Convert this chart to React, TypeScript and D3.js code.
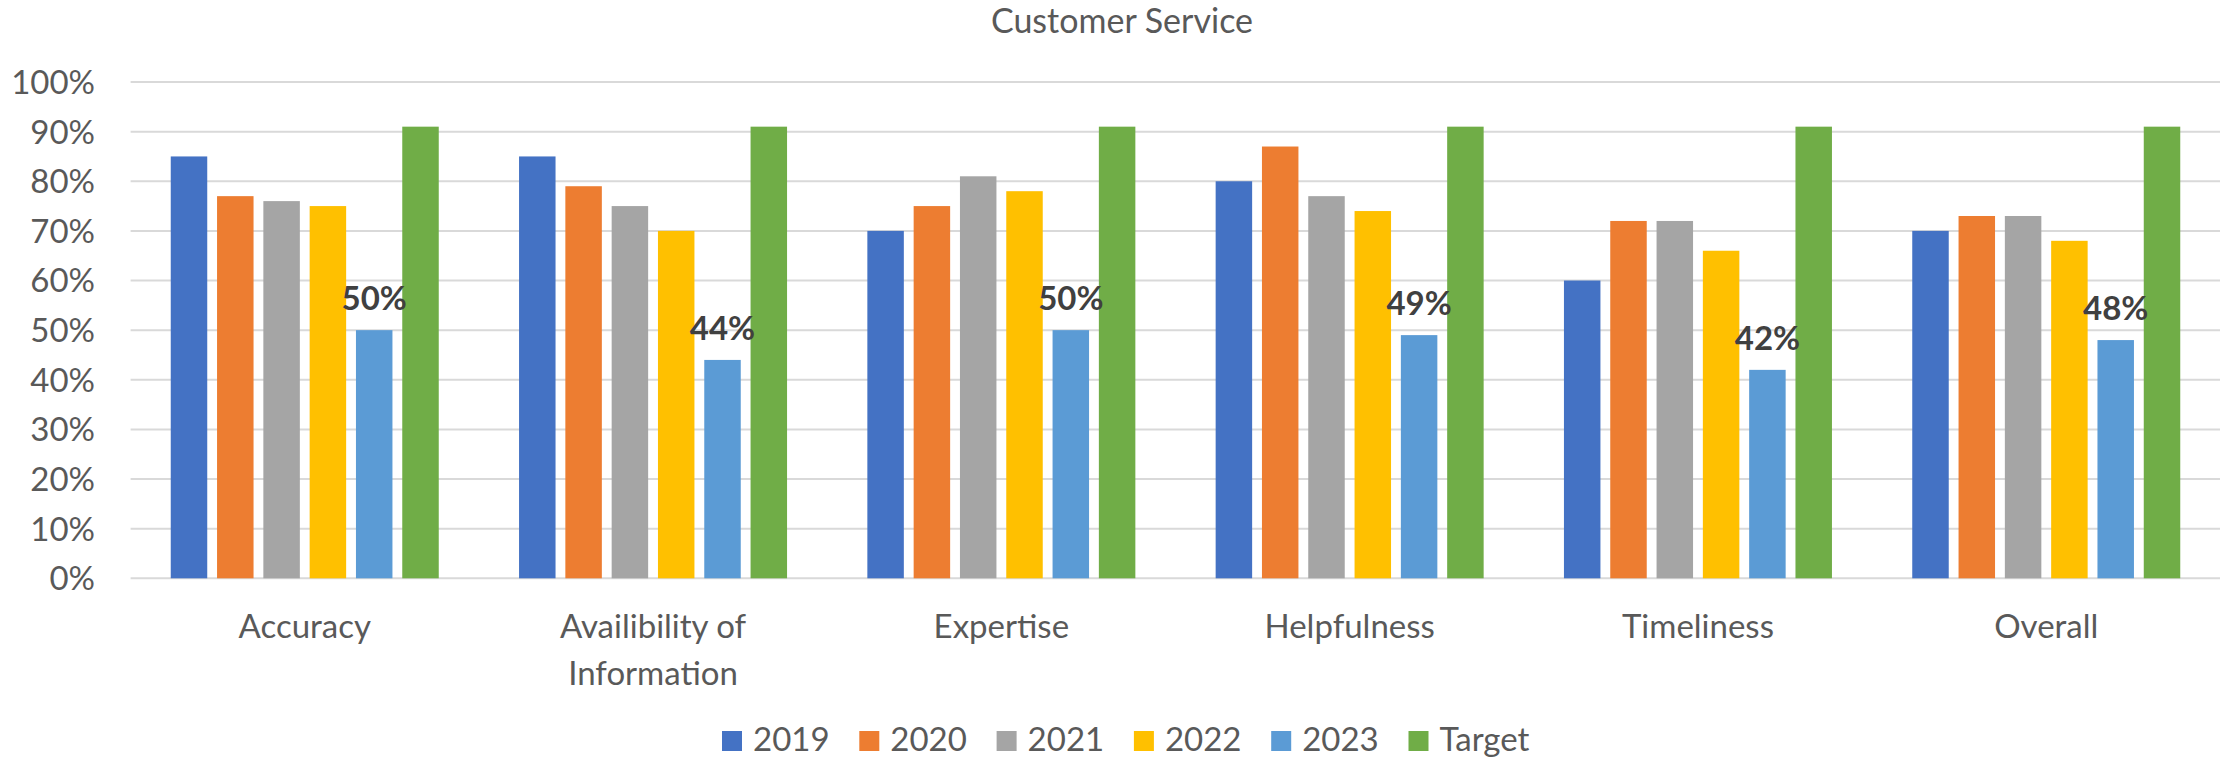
import React from "react";
import * as d3 from "d3";

const chartTitle = "Customer Service";
const categories = ["Accuracy", "Availibility of Information", "Expertise", "Helpfulness", "Timeliness", "Overall"];
const categoryLines = [["Accuracy"], ["Availibility of", "Information"], ["Expertise"], ["Helpfulness"], ["Timeliness"], ["Overall"]];
const seriesNames = ["2019", "2020", "2021", "2022", "2023", "Target"];
const v2019 = [85, 85, 70, 80, 60, 70];
const v2020 = [77, 79, 75, 87, 72, 73];
const v2021 = [76, 75, 81, 77, 72, 73];
const v2022 = [75, 70, 78, 74, 66, 68];
const v2023 = [50, 44, 50, 49, 42, 48];
const vTarget = [91, 91, 91, 91, 91, 91];
const yTicks = [0, 10, 20, 30, 40, 50, 60, 70, 80, 90, 100];
const colors = ["#4472C4", "#ED7D31", "#A5A5A5", "#FFC000", "#5B9BD5", "#70AD47"];
const labeledSeries = "2023";

const W = 2220;
const H = 760;
const FONT = "Lato, 'Open Sans', sans-serif";

export default function App() {
  const values = [v2019, v2020, v2021, v2022, v2023, vTarget];
  const plotLeft = 130.6;
  const plotRight = 2220.4;
  const y = d3.scaleLinear().domain([0, 100]).range([578.3, 82]);
  const x0 = d3.scaleBand<string>().domain(categories).range([plotLeft, plotRight]).paddingInner(0).paddingOuter(0);
  const bw = x0.bandwidth();
  const cluster = 268;
  const x1 = d3
    .scaleBand<string>()
    .domain(seriesNames)
    .range([(bw - cluster) / 2, (bw + cluster) / 2])
    .paddingInner(0.212)
    .paddingOuter(0);
  const legendX = d3.scalePoint<string>().domain(seriesNames).range([722, 1408.5]);

  return (
    <div style={{ position: "absolute", left: 0, top: 0 }}>
      <svg width={W} height={H} style={{ display: "block", background: "#fff" }}>
        <text x={1122} y={33} textAnchor="middle" fontFamily={FONT} fontSize={34} fill="#595959">
          {chartTitle}
        </text>
        {yTicks.map((t) => (
          <g key={t}>
            <line x1={plotLeft} x2={W} y1={y(t)} y2={y(t)} stroke="#D9D9D9" strokeWidth={2} />
            <text
              x={95}
              y={y(t)}
              dy="0.36em"
              textAnchor="end"
              fontFamily={FONT}
              fontSize={33}
              fill="#595959"
            >
              {t + "%"}
            </text>
          </g>
        ))}
        {categories.map((c, ci) => (
          <g key={c} transform={`translate(${x0(c)},0)`}>
            {seriesNames.map((s, si) => {
              const v = values[si][ci];
              return (
                <rect
                  key={s}
                  x={x1(s)}
                  y={y(v)}
                  width={x1.bandwidth()}
                  height={y(0) - y(v)}
                  fill={colors[si]}
                />
              );
            })}
            {seriesNames.map((s, si) =>
              s === labeledSeries ? (
                <text
                  key={"l" + s}
                  x={(x1(s) as number) + x1.bandwidth() / 2}
                  y={y(values[si][ci]) - 20}
                  textAnchor="middle"
                  fontFamily={FONT}
                  fontWeight="bold"
                  fontSize={33}
                  fill="#404040"
                >
                  {values[si][ci] + "%"}
                </text>
              ) : null
            )}
            {categoryLines[ci].map((line, li) => (
              <text
                key={li}
                x={bw / 2}
                y={638 + li * 47}
                textAnchor="middle"
                fontFamily={FONT}
                fontSize={33}
                fill="#595959"
              >
                {line}
              </text>
            ))}
          </g>
        ))}
        {seriesNames.map((s, si) => (
          <g key={"lg" + s} transform={`translate(${legendX(s)},0)`}>
            <rect x={0} y={731} width={20} height={20} fill={colors[si]} />
            <text x={31} y={751} fontFamily={FONT} fontSize={33} fill="#595959">
              {s}
            </text>
          </g>
        ))}
      </svg>
    </div>
  );
}
